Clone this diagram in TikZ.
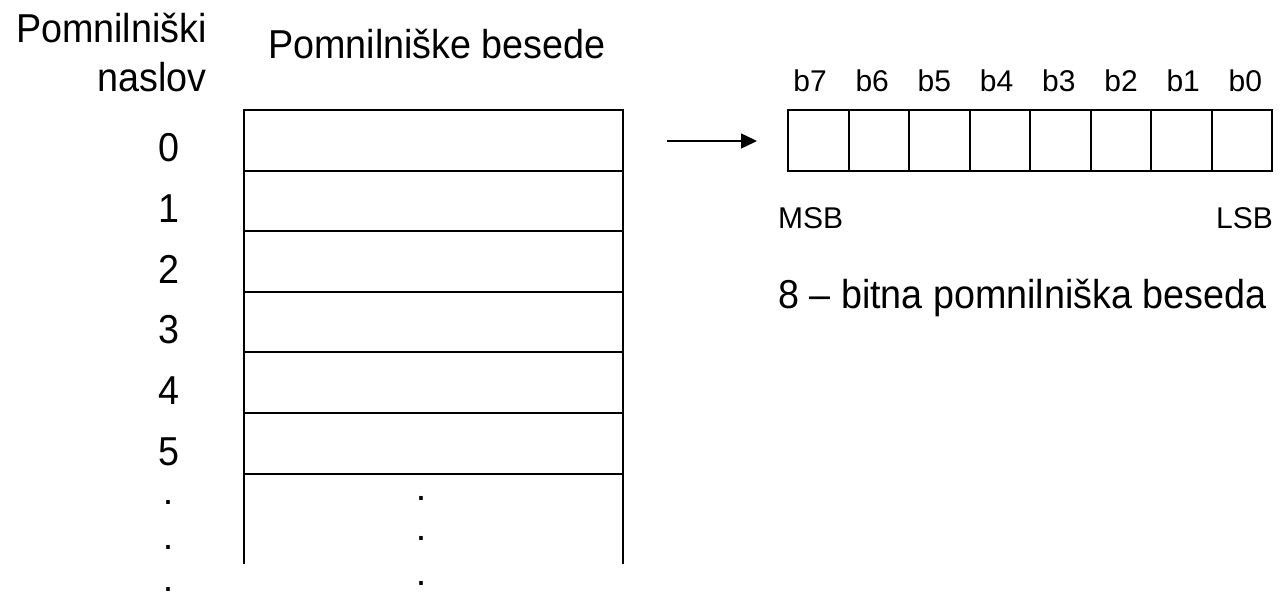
\documentclass[tikz,border=0pt]{standalone}
\usepackage{graphicx}
\usepackage{fontspec}
\setmainfont{Liberation Sans}
\usetikzlibrary{arrows.meta}
% slightly tall lettering
\newcommand\tallbox[1]{\scalebox{1}[1.07]{#1}}
\begin{document}
\begin{tikzpicture}[x=1pt,y=-1pt,
  big/.style={font=\fontsize{37.7}{40}\selectfont, inner sep=0pt},
  small/.style={font=\fontsize{30}{32}\selectfont, inner sep=0pt},
  cellbox/.style={draw, line width=2pt, minimum width=60.5pt, minimum height=60.6pt, inner sep=0pt, outer sep=0pt},
  rowbox/.style={draw, line width=2pt, minimum width=379pt, minimum height=60.6pt, inner sep=0pt, outer sep=0pt},
  wire/.style={line width=2pt},
  pointer/.style={line width=1.4pt, -{Triangle[length=16pt,width=15pt]}},
]
\useasboundingbox (0,0) rectangle (1281,596);

% headings
\node[big, anchor=base east] (hAddr1) at (207,43) {\tallbox{Pomnilniški}};
\node[big, anchor=base east] (hAddr2) at (207,92) {\tallbox{naslov}};
\node[big, anchor=base west] (hWords) at (268,59) {\tallbox{Pomnilniške besede}};

% memory words and their addresses
\foreach \i in {0,...,5} {
  \node[rowbox] (r\i) at (433.5,{140.3+60.6*\i}) {};
  \node[big, anchor=base] (a\i) at (169,{162+60.6*\i}) {\tallbox{\i}};
}
\coordinate (tailL) at (244,564);
\coordinate (tailR) at (623,564);
\draw[wire] (r5.south west) -- (tailL);
\draw[wire] (r5.south east) -- (tailR);

% continuation dots
\foreach \y [count=\k] in {504,549,591} \node[big, anchor=base] (ld\k) at (168,\y) {.};
\foreach \y [count=\k] in {500,540,585} \node[big, anchor=base] (md\k) at (421,\y) {.};

% one 8-bit word
\foreach \i in {0,...,7} {
  \pgfmathtruncatemacro{\bit}{7-\i}
  \node[cellbox] (c\bit) at ({818.25+60.5*\i},140.5) {};
  \node[small, anchor=base] (lb\bit) at ({810+62.2*\i},92) {b\bit};
}
\node[small, anchor=base west] (msb) at (778,228) {MSB};
\node[small, anchor=base east] (lsb) at (1273,228) {LSB};
\node[big, anchor=base west] (caption) at (778,308) {\tallbox{8 – bitna pomnilniška beseda}};

% pointer from a memory word to its bits
\coordinate (arrS) at (667,141);
\coordinate (arrE) at (757,141);
\draw[pointer] (arrS) -- (arrE);
\end{tikzpicture}
\end{document}
